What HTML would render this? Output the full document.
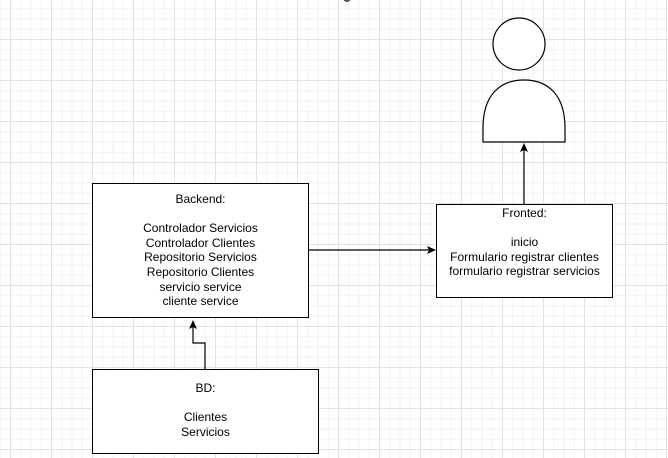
<!DOCTYPE html>
<html><head><meta charset="utf-8"><style>
html,body{margin:0;padding:0;}
body{width:668px;height:458px;overflow:hidden;position:relative;background-color:#fff;
background-image:
linear-gradient(to right,#e2e2e2 1px,transparent 1px),
linear-gradient(to bottom,#e2e2e2 1px,transparent 1px),
linear-gradient(to right,#f2f2f2 1px,transparent 1px),
linear-gradient(to bottom,#f2f2f2 1px,transparent 1px);
background-size:41px 41px,41px 41px,10.25px 10.25px,10.25px 10.25px;
background-position:10px 0,0 39px,10px 0,0 39px;
font-family:"Liberation Sans",Arial,sans-serif;font-size:12px;color:#000;}
.box{position:absolute;border:1px solid #000;background:#fff;box-sizing:border-box;text-align:center;line-height:14.5px;}
</style></head><body>
<div class="box" style="left:92px;top:183px;width:217px;height:135px"></div>
<div style="position:absolute;left:92px;top:192px;width:217px;text-align:center;line-height:14.6px">Backend:<br><br>Controlador Servicios<br>Controlador Clientes<br>Repositorio Servicios<br>Repositorio Clientes<br>servicio service<br>cliente service</div>
<div class="box" style="left:92px;top:369px;width:227px;height:85px"></div>
<div style="position:absolute;left:92px;top:381px;width:227px;text-align:center;line-height:14.6px">BD:<br><br>Clientes<br>Servicios</div>
<div class="box" style="left:436px;top:204px;width:177px;height:94px"></div>
<div style="position:absolute;left:436px;top:206px;width:177px;text-align:center;line-height:14.6px">Fronted:<br><br>inicio<br>Formulario registrar clientes<br>formulario registrar servicios</div>
<svg width="668" height="458" style="position:absolute;left:0;top:0" xmlns="http://www.w3.org/2000/svg">
<ellipse cx="519" cy="44" rx="26" ry="26" fill="#fff" stroke="#000" stroke-width="1.2"/>
<path d="M483 142 L483 128 C483 95 500 80 524 80 C548 80 565 95 565 128 L565 142 Z" fill="#fff" stroke="#000" stroke-width="1.2"/>
<g stroke="#000" fill="none" stroke-width="1.2">
<path d="M524 204 L524 150"/>
<path d="M309 250 L430 250"/>
<path d="M205 369 L205 343 L193 343 L193 326"/>
</g>
<g fill="#000">
<path d="M524 143 L520 152 L524 150 L528 152 Z"/>
<path d="M436 250 L427 246 L429 250 L427 254 Z"/>
<path d="M193 320 L189 329 L193 327 L197 329 Z"/>
</g>
<circle cx="347" cy="-2" r="4" fill="#555"/>
</svg>
</body></html>
